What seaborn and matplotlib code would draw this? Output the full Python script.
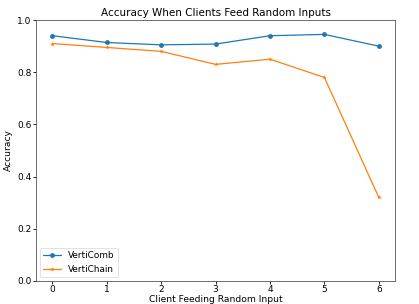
import matplotlib
matplotlib.use("Agg")
import matplotlib.pyplot as plt
import seaborn as sns
import pandas as pd

clients = [0, 1, 2, 3, 4, 5, 6]
verticomb = [0.94, 0.914, 0.905, 0.908, 0.94, 0.945, 0.90]
vertichain = [0.91, 0.895, 0.88, 0.83, 0.85, 0.78, 0.32]
methods = ["VertiComb", "VertiChain"]

sns.set_style("ticks")
plt.rcParams['font.family'] = ['DejaVu Sans']
plt.rcParams['text.color'] = 'black'
plt.rcParams['axes.labelcolor'] = 'black'
plt.rcParams['xtick.color'] = 'black'
plt.rcParams['ytick.color'] = 'black'

df = pd.DataFrame({
    "client": clients * 2,
    "acc": verticomb + vertichain,
    "method": [methods[0]] * len(clients) + [methods[1]] * len(clients),
})

fig = plt.figure(figsize=(4.19, 3.04), dpi=100)
ax = fig.add_axes([0.086, 0.076, 0.857, 0.858])
sns.lineplot(data=df, x="client", y="acc", hue="method", style="method",
             markers={"VertiComb": "o", "VertiChain": "*"}, dashes=False,
             palette=["#1f77b4", "#ff7f0e"], linewidth=0.9, markersize=3.5,
             markeredgewidth=0, ax=ax)
ax.set_ylim(0, 1.0)
ax.set_xlim(-0.3, 6.3)
ax.set_xticks(clients)
ax.set_yticks([0.0, 0.2, 0.4, 0.6, 0.8, 1.0])
ax.tick_params(labelsize=6.5, length=2, width=0.6, pad=1.2)
for s in ax.spines.values():
    s.set_linewidth(0.6)
    s.set_color("#555555")
ax.set_xlabel("Client Feeding Random Input", fontsize=6.6, labelpad=0.5)
ax.set_ylabel("Accuracy", fontsize=6.6, labelpad=3)
ax.set_title("Accuracy When Clients Feed Random Inputs", fontsize=7.5, pad=3)
leg = ax.legend(loc="lower left", fontsize=6.4, frameon=True, borderaxespad=0.4)
leg.get_frame().set_linewidth(0.5)
fig.savefig("out.png", dpi=100)
